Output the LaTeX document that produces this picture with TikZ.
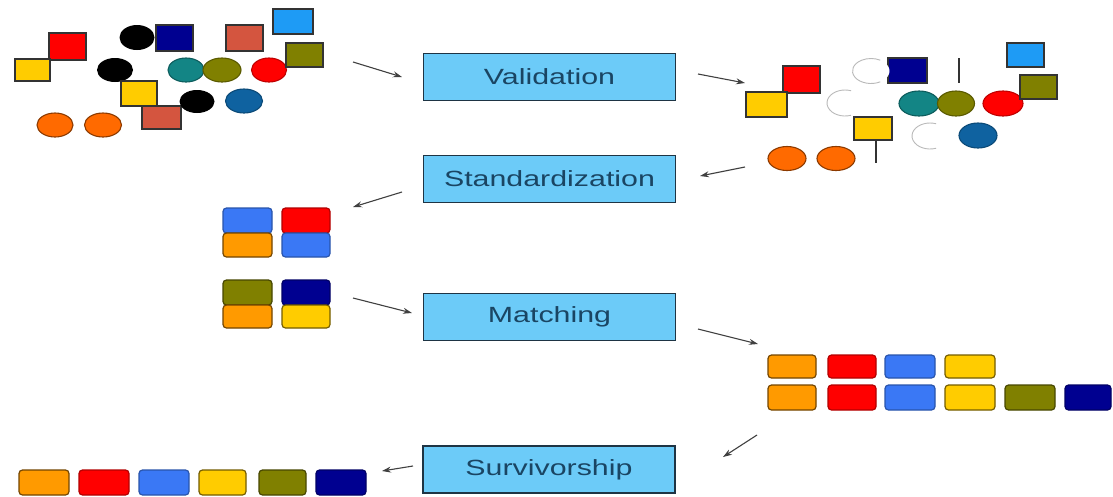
\documentclass[tikz,border=0pt]{standalone}
\usepackage{fontspec}
\setmainfont{Liberation Sans}
\usetikzlibrary{arrows.meta}
\definecolor{boxfill}{HTML}{6CCBF8}
\definecolor{boxedge}{HTML}{1E3444}
\definecolor{boxtext}{HTML}{1A4563}
\definecolor{cred}{HTML}{FF0000}
\definecolor{cyel}{HTML}{FFCC00}
\definecolor{cnavy}{HTML}{000090}
\definecolor{cbrick}{HTML}{D4553F}
\definecolor{csky}{HTML}{1E9BF5}
\definecolor{colive}{HTML}{808000}
\definecolor{cteal}{HTML}{138585}
\definecolor{cdblue}{HTML}{0F62A0}
\definecolor{corange}{HTML}{FF6A00}
\definecolor{cor}{HTML}{FF9A00}
\definecolor{cblue}{HTML}{3A78F5}
\tikzset{
  procbox/.style={draw=boxedge, line width=1.2pt, fill=boxfill, minimum width=252pt, minimum height=47pt, inner sep=0pt, text=boxtext, font=\fontsize{22pt}{26pt}\selectfont},
  sqr/.style={draw=black!80, line width=1.2pt},
  blob/.style={line width=1.1pt},
  ghost/.style={draw=gray!55, line width=0.9pt},
  tile/.style={line width=1.2pt, rounded corners=3.5pt},
  flow/.style={draw=black!75, line width=1.1pt, -{Stealth[length=9pt,width=6pt]}},
}
\newcommand{\stretchtxt}[1]{\scalebox{1.38}[1]{#1}}
\begin{document}
\begin{tikzpicture}[x=1pt,y=-1pt]
\useasboundingbox (0,0) rectangle (1113,496);
% ---------- process boxes
\node[procbox] (val) at (549.5,77) {\stretchtxt{Validation}};
\node[procbox] (std) at (549.5,179) {\stretchtxt{Standardization}};
\node[procbox] (mat) at (549.5,317) {\stretchtxt{Matching}};
\node[procbox] (sur) at (549,469.5) {\stretchtxt{Survivorship}};

% ---------- left raw cluster
\draw[sqr,fill=cred] (49,33) rectangle (86,60);
\draw[sqr,fill=cyel] (15,59) rectangle (50,81);
\fill[black] (137,37.5) ellipse [x radius=17.5, y radius=12.5];
\draw[sqr,fill=cnavy] (156,25) rectangle (193,51);
\draw[sqr,fill=cbrick] (226,25) rectangle (263,51);
\draw[sqr,fill=csky] (273,9) rectangle (313,34);
\fill[black] (115,70) ellipse [x radius=18, y radius=12];
\draw[blob,fill=cteal,draw=cteal!70!black] (186,70) ellipse [x radius=18, y radius=12];
\draw[blob,fill=colive,draw=colive!70!black] (222,70) ellipse [x radius=19, y radius=12];
\draw[blob,fill=cred,draw=cred!75!black] (269,70) ellipse [x radius=17.5, y radius=12];
\draw[sqr,fill=colive] (286,43) rectangle (323,67);
\draw[sqr,fill=cyel] (121,81) rectangle (157,106);
\draw[sqr,fill=cbrick] (142,106) rectangle (181,129);
\fill[black] (197,101.5) ellipse [x radius=17.5, y radius=11.5];
\draw[blob,fill=cdblue,draw=cdblue!75!black] (244,101) ellipse [x radius=18.5, y radius=12];
\draw[blob,fill=corange,draw=corange!55!black] (55,125) ellipse [x radius=18, y radius=12];
\draw[blob,fill=corange,draw=corange!55!black] (103,125) ellipse [x radius=18.5, y radius=12];

% ---------- right validated cluster
\draw[sqr,fill=cred] (783,66) rectangle (820,93);
\draw[sqr,fill=cyel] (746,92) rectangle (787,117);
\draw[sqr,fill=cnavy] (888,58) rectangle (927,83);
\fill[white] (871,71) ellipse [x radius=18.5, y radius=12.5];
\draw[ghost] (871,71) ++(60:18.5 and 12.5) arc[start angle=60, end angle=300, x radius=18.5, y radius=12.5];
\draw[black!80, line width=1.5pt] (959,58) -- (959,83);
\draw[sqr,fill=csky] (1007,43) rectangle (1044,67);
\draw[ghost] (845,103) ++(70:18 and 13) arc[start angle=70, end angle=290, x radius=18, y radius=13];
\draw[blob,fill=cteal,draw=cteal!70!black] (919,103.5) ellipse [x radius=20, y radius=12.5];
\draw[blob,fill=colive,draw=colive!70!black] (956,103.5) ellipse [x radius=18.5, y radius=12.5];
\draw[blob,fill=cred,draw=cred!75!black] (1003,103.5) ellipse [x radius=20, y radius=12.5];
\draw[sqr,fill=colive] (1020,75) rectangle (1057,99);
\draw[sqr,fill=cyel] (854,117) rectangle (892,140);
\draw[black!80, line width=1.5pt] (876,140) -- (876,163);
\draw[ghost] (930,136) ++(70:18 and 13) arc[start angle=70, end angle=290, x radius=18, y radius=13];
\draw[blob,fill=cdblue,draw=cdblue!75!black] (978,135.5) ellipse [x radius=19, y radius=12.5];
\draw[blob,fill=corange,draw=corange!55!black] (787,158.5) ellipse [x radius=19, y radius=12];
\draw[blob,fill=corange,draw=corange!55!black] (836,158.5) ellipse [x radius=19, y radius=12];

% ---------- standardized stacks
\draw[tile,fill=cblue,draw=cblue!70!black] (223,208) rectangle (272,233);
\draw[tile,fill=cor,draw=cor!45!black] (223,233) rectangle (272,257);
\draw[tile,fill=cred,draw=cred!70!black] (282,208) rectangle (330,233);
\draw[tile,fill=cblue,draw=cblue!70!black] (282,233) rectangle (330,257);
\draw[tile,fill=colive,draw=colive!55!black] (223,280) rectangle (272,305);
\draw[tile,fill=cor,draw=cor!45!black] (223,305) rectangle (272,328);
\draw[tile,fill=cnavy,draw=cnavy!70!black] (282,280) rectangle (330,305);
\draw[tile,fill=cyel,draw=cyel!45!black] (282,305) rectangle (330,328);

% ---------- matched rows
\draw[tile,fill=cor,draw=cor!45!black] (768,355) rectangle (816,378);
\draw[tile,fill=cred,draw=cred!70!black] (828,355) rectangle (876,378);
\draw[tile,fill=cblue,draw=cblue!70!black] (885,355) rectangle (935,378);
\draw[tile,fill=cyel,draw=cyel!45!black] (945,355) rectangle (995,378);
\draw[tile,fill=cor,draw=cor!45!black] (768,385) rectangle (816,410);
\draw[tile,fill=cred,draw=cred!70!black] (828,385) rectangle (876,410);
\draw[tile,fill=cblue,draw=cblue!70!black] (885,385) rectangle (935,410);
\draw[tile,fill=cyel,draw=cyel!45!black] (945,385) rectangle (995,410);
\draw[tile,fill=colive,draw=colive!55!black] (1005,385) rectangle (1055,410);
\draw[tile,fill=cnavy,draw=cnavy!70!black] (1065,385) rectangle (1111,410);

% ---------- survivor row
\draw[tile,fill=cor,draw=cor!45!black] (19,470) rectangle (69,495);
\draw[tile,fill=cred,draw=cred!70!black] (79,470) rectangle (129,495);
\draw[tile,fill=cblue,draw=cblue!70!black] (139,470) rectangle (189,495);
\draw[tile,fill=cyel,draw=cyel!45!black] (199,470) rectangle (246,495);
\draw[tile,fill=colive,draw=colive!55!black] (259,470) rectangle (306,495);
\draw[tile,fill=cnavy,draw=cnavy!70!black] (316,470) rectangle (366,495);

% ---------- arrows
\coordinate (a1s) at (353,62);   \coordinate (a1e) at (402,77);
\coordinate (a2s) at (698,74);   \coordinate (a2e) at (745,83);
\coordinate (a3s) at (745,167);  \coordinate (a3e) at (700,176);
\coordinate (a4s) at (402,192);  \coordinate (a4e) at (353,207);
\coordinate (a5s) at (353,298);  \coordinate (a5e) at (412,313);
\coordinate (a6s) at (698,329);  \coordinate (a6e) at (758,344);
\coordinate (a7s) at (757,435);  \coordinate (a7e) at (723,457);
\coordinate (a8s) at (413,466);  \coordinate (a8e) at (382,471);
\draw[flow] (a1s) -- (a1e);
\draw[flow] (a2s) -- (a2e);
\draw[flow] (a3s) -- (a3e);
\draw[flow] (a4s) -- (a4e);
\draw[flow] (a5s) -- (a5e);
\draw[flow] (a6s) -- (a6e);
\draw[flow] (a7s) -- (a7e);
\draw[flow] (a8s) -- (a8e);
\end{tikzpicture}
\end{document}
